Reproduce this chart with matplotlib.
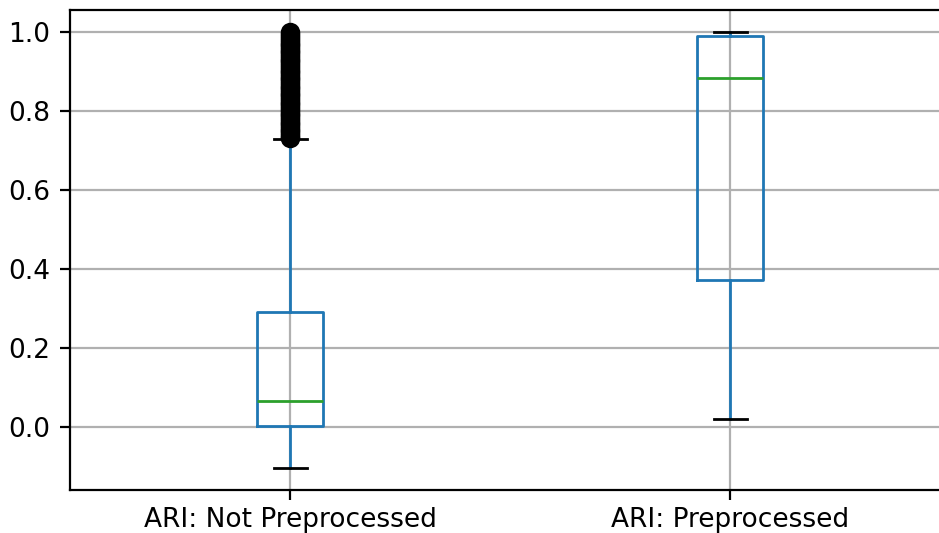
import matplotlib.pyplot as plt

labels = ["ARI: Not Preprocessed", "ARI: Preprocessed"]

# box statistics
whislo = [-0.104, 0.020]
q1 = [0.003, 0.372]
med = [0.066, 0.884]
q3 = [0.291, 0.990]
whishi = [0.729, 1.000]

# outliers of the first column (dense stack above the upper whisker)
fliers_np = [0.731, 0.735, 0.74, 0.744, 0.75, 0.753, 0.758, 0.762, 0.767, 0.771,
             0.776, 0.78, 0.785, 0.79, 0.794, 0.799, 0.803, 0.808, 0.812, 0.817,
             0.821, 0.826, 0.83, 0.835, 0.84, 0.844, 0.849, 0.853, 0.858, 0.862,
             0.867, 0.872, 0.876, 0.881, 0.885, 0.89, 0.894, 0.899, 0.903, 0.908,
             0.912, 0.917, 0.921, 0.926, 0.93, 0.935, 0.94, 0.944, 0.949, 0.953,
             0.958, 0.962, 0.967, 0.971, 0.976, 0.98, 0.985, 0.99, 0.995, 1.0]
fliers_p = []

stats = []
for i in range(2):
    stats.append({
        "label": labels[i],
        "whislo": whislo[i], "q1": q1[i], "med": med[i],
        "q3": q3[i], "whishi": whishi[i],
        "fliers": [fliers_np, fliers_p][i],
    })

plt.rcParams['font.size'] = 9.5
fig, ax = plt.subplots(figsize=(4.695, 2.665), dpi=200)
# right edge of the axes sits just past the picture, as in the original
fig.subplots_adjust(left=0.0746, right=1.0117, top=0.981, bottom=0.081)

ax.bxp(stats,
       boxprops=dict(color="C0"),
       whiskerprops=dict(color="C0"),
       capprops=dict(color="k"),
       medianprops=dict(color="C2"),
       flierprops=dict(marker="o", markerfacecolor="none", markeredgecolor="k"))

ax.set_xlim(0.5, 2.5)
ax.set_ylim(-0.159, 1.056)
ax.tick_params(axis="x", pad=2.8)
ax.grid(True)
ax.set_axisbelow(True)

plt.savefig("out.png")
